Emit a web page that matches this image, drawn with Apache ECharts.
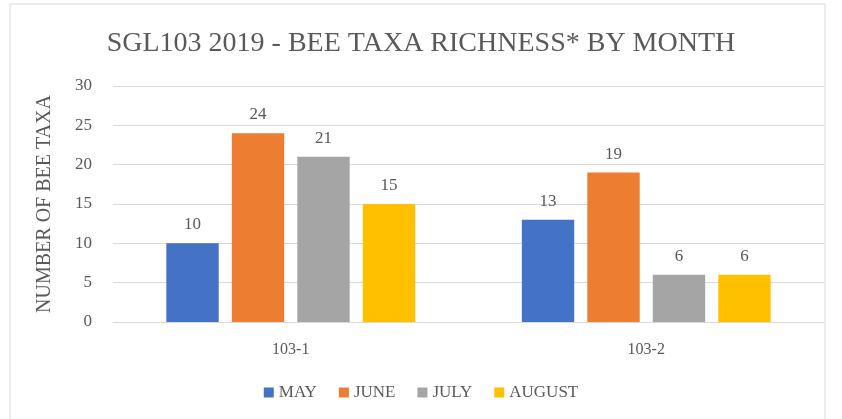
<!DOCTYPE html>
<html><head><meta charset="utf-8">
<script src="https://cdn.jsdelivr.net/npm/echarts@6/dist/echarts.min.js"></script>
<style>html,body{margin:0;padding:0;background:#fff}#c{width:842px;height:419px}</style>
</head><body><div id="c"></div>
<script>
const categories = ['103-1', '103-2'];
const seriesNames = ['MAY', 'JUNE', 'JULY', 'AUGUST'];
const may = [10, 13];
const june = [24, 19];
const july = [21, 6];
const august = [15, 6];
const colors = ['#4472C4', '#ED7D31', '#A5A5A5', '#FFC000'];
const font = '"Liberation Serif", "DejaVu Serif", serif';
const txt = '#595959';
const values = [may, june, july, august];
const chart = echarts.init(document.getElementById('c'));
chart.setOption({
  animation: false,
  color: colors,
  graphic: [{type: 'rect', shape: {x: 10, y: 4, width: 815, height: 430}, style: {fill: 'none', stroke: '#d9d9d9', lineWidth: 1}, silent: true}],
  title: {text: 'SGL103 2019 - BEE TAXA RICHNESS* BY MONTH', left: 'center', top: 25,
    textStyle: {fontFamily: font, fontSize: 28, fontWeight: 'normal', color: txt}},
  legend: {bottom: 13, left: 'center', itemWidth: 10, itemHeight: 10, itemGap: 22, icon: 'rect',
    textStyle: {fontFamily: font, fontSize: 17, color: txt}, data: seriesNames},
  grid: {left: 113, right: 18, top: 86, bottom: 97},
  xAxis: {type: 'category', data: categories,
    axisLine: {lineStyle: {color: '#d9d9d9'}}, axisTick: {show: false},
    axisLabel: {fontFamily: font, fontSize: 16, color: txt, margin: 20}},
  yAxis: {type: 'value', min: 0, max: 30, interval: 5,
    name: 'NUMBER OF BEE TAXA', nameLocation: 'middle', nameGap: 58,
    nameTextStyle: {fontFamily: font, fontSize: 20, color: txt},
    axisLine: {show: false}, axisTick: {show: false},
    axisLabel: {fontFamily: font, fontSize: 17, color: txt, margin: 21},
    splitLine: {lineStyle: {color: '#d9d9d9'}}},
  series: seriesNames.map((n, i) => ({
    name: n, type: 'bar', data: values[i], barGap: '25%', barCategoryGap: '30%',
    label: {show: true, position: 'top', distance: 10, fontFamily: font, fontSize: 17, color: txt}
  }))
});
</script></body></html>
